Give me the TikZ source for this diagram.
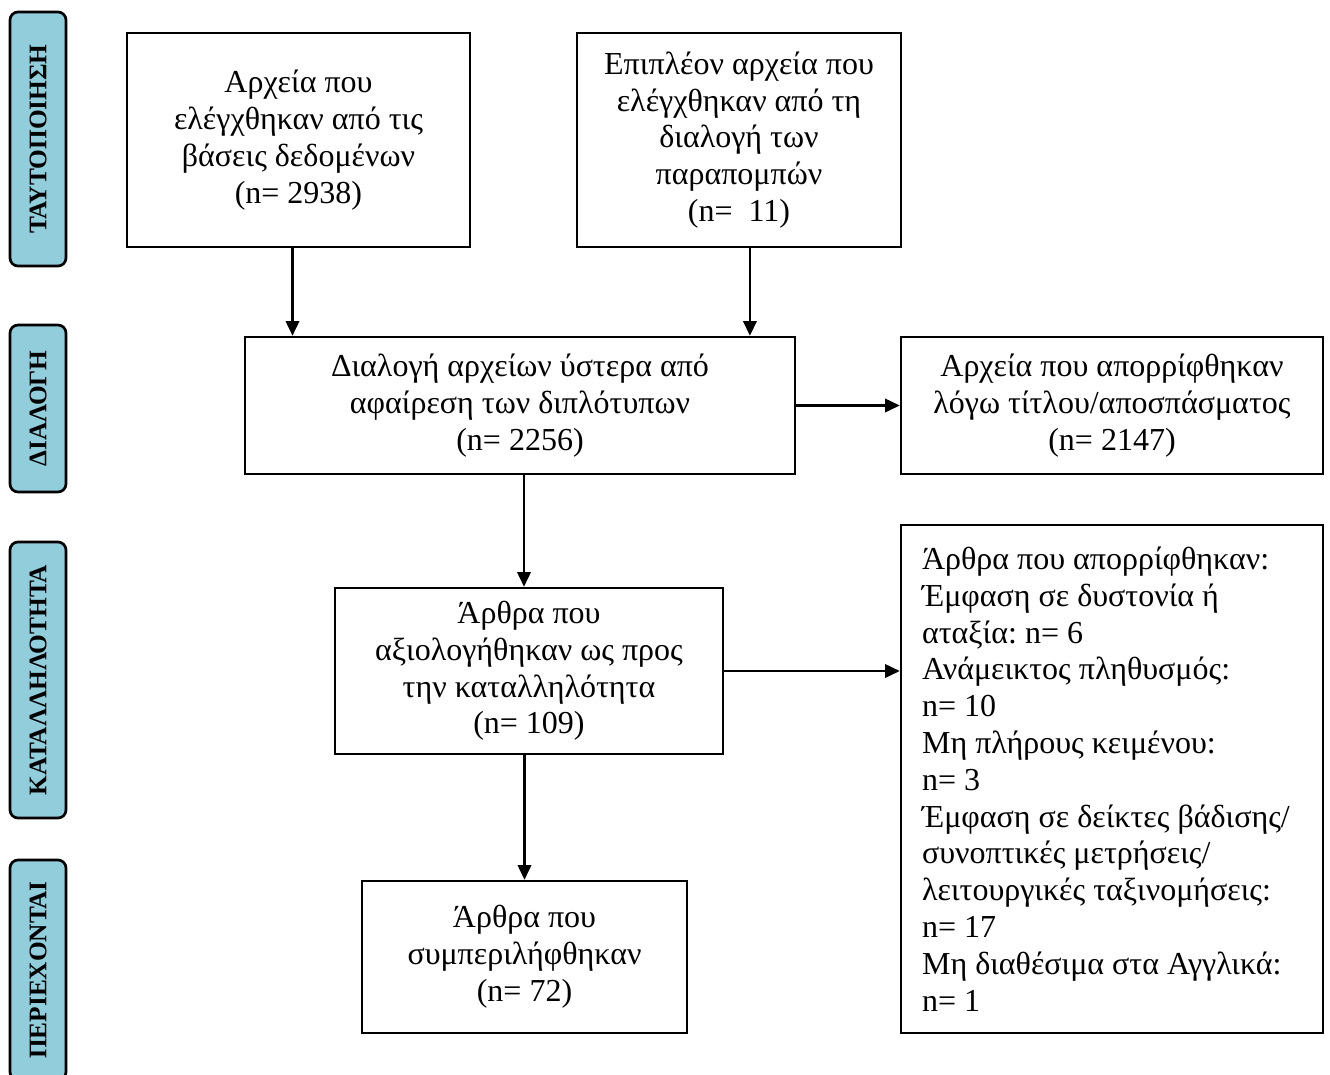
\documentclass[tikz,border=0pt]{standalone}
\usepackage{fontspec}
\setmainfont{Liberation Serif}
\usepackage{xcolor}
\usetikzlibrary{positioning, arrows.meta}

\definecolor{stageblue}{RGB}{146,205,220}

\begin{document}
\begin{tikzpicture}[
            x=0.375pt, y=-0.375pt,
            >={Triangle[length=5.5pt, width=5pt]},
            stage/.style={rectangle, draw, line width=1pt, rounded corners=3pt, fill=stageblue,
                    rotate=90, minimum height=21pt, inner sep=0pt,
                    font=\fontsize{9.5}{11}\selectfont\bfseries},
            procbox/.style={rectangle, draw, line width=0.9pt, align=center, inner sep=3pt,
                    font=\fontsize{12}{13.8}\selectfont},
            listbox/.style={rectangle, draw, line width=0.9pt, inner xsep=7.9pt, inner ysep=3pt,
                    text width=142.45pt, font=\fontsize{12}{13.8}\selectfont,
                    execute at begin node={\raggedright\frenchspacing\spaceskip=0pt\xspaceskip=0pt}},
            arrow/.style={->, line width=0.9pt},
            ]

            \useasboundingbox (0,0) rectangle (1330,1075);

            % stage labels on the left
            \node[stage, minimum width=95.25pt] (lident) at (38,139) {ΤΑΥΤΟΠΟΙΗΣΗ};
            \node[stage, minimum width=62.6pt] (lscreen) at (38,408.5) {ΔΙΑΛΟΓΗ};
            \node[stage, minimum width=103.5pt] (lelig) at (38,680) {ΚΑΤΑΛΛΗΛΟΤΗΤΑ};
            \node[stage, minimum width=82.5pt] (lincl) at (38,970) {ΠΕΡΙΕΧΟΝΤΑΙ};

            % flow boxes
            \node[procbox, minimum width=128.6pt, minimum height=80.25pt] (dbs) at (298.5,140)
                {Αρχεία που\\ελέγχθηκαν από τις\\βάσεις δεδομένων\\(n= 2938)};
            \node[procbox, minimum width=121.5pt, minimum height=80.25pt] (refs) at (739,140)
                {Επιπλέον αρχεία που\\ελέγχθηκαν από τη\\διαλογή των\\παραπομπών\\(n=\ \ 11)};
            \node[procbox, minimum width=206.25pt, minimum height=51.4pt] (dedup) at (520,405.5)
                {Διαλογή αρχείων ύστερα από\\αφαίρεση των διπλότυπων\\(n= 2256)};
            \node[procbox, minimum width=158.25pt, minimum height=51.4pt] (excl) at (1112,405.5)
                {Αρχεία που απορρίφθηκαν\\λόγω τίτλου/αποσπάσματος\\(n= 2147)};
            \node[procbox, minimum width=145.5pt, minimum height=62.25pt] (full) at (529,671)
                {Άρθρα που\\αξιολογήθηκαν ως προς\\την καταλληλότητα\\(n= 109)};
            \node[listbox, minimum height=190.5pt] (reasons) at (1112,779)
                {Άρθρα που απορρίφθηκαν:\\Έμφαση σε δυστονία ή\\αταξία: n= 6\\Ανάμεικτος πληθυσμός:\\n= 10\\Μη πλήρους κειμένου:\\n= 3\\Έμφαση σε δείκτες βάδισης/\\συνοπτικές μετρήσεις/\\λειτουργικές ταξινομήσεις:\\n= 17\\Μη διαθέσιμα στα Αγγλικά:\\n= 1};
            \node[procbox, minimum width=121.9pt, minimum height=57pt] (incl) at (524.5,957)
                {Άρθρα που\\συμπεριλήφθηκαν\\(n= 72)};

            \draw[arrow] ([xshift=-2.25pt]dbs.south) -- ([xshift=-2.25pt]dbs.south |- dedup.north);
            \draw[arrow] ([xshift=4.1pt]refs.south) -- ([xshift=4.1pt]refs.south |- dedup.north);
            \draw[arrow] (dedup.east) -- (excl.west);
            \draw[arrow] ([xshift=1.5pt]dedup.south) -- ([xshift=1.5pt]dedup.south |- full.north);
            \draw[arrow] (full.east) -- (full.east -| reasons.west);
            \draw[arrow] (incl.north |- full.south) -- (incl.north);

        \end{tikzpicture}
\end{document}
